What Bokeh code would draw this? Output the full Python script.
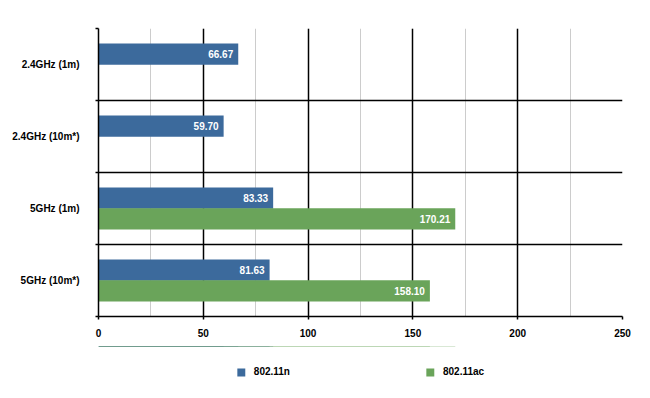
from bokeh.plotting import figure
from bokeh.layouts import column
from bokeh.models import (Range1d, FixedTicker, SingleIntervalTicker, ColumnDataSource,
                          Legend, LegendItem)
from bokeh.embed import file_html
from bokeh.resources import INLINE
from bokeh.core.properties import value

categories = ["2.4GHz (1m)", "2.4GHz (10m*)", "5GHz (1m)", "5GHz (10m*)"]
series = ["802.11n", "802.11ac"]
n_values = [66.67, 59.70, 83.33, 81.63]
ac_values = [None, None, 170.21, 158.10]
x_ticks = [0, 50, 100, 150, 200, 250]

BLUE = "#3c6a9c"
GREEN = "#6aa45a"
FONT = "Liberation Sans"
OFF = 0.145
H = 0.295

idx = list(range(len(categories)))
centers = [i + 0.5 for i in idx]
bounds = list(range(len(categories) + 1))

n_src = ColumnDataSource(dict(
    y=[c - OFF for c in centers], x=n_values,
    label=["%.2f" % v for v in n_values]))
ac_pairs = [(c, v) for c, v in zip(centers, ac_values) if v is not None]
ac_src = ColumnDataSource(dict(
    y=[c + OFF for c, v in ac_pairs], x=[v for c, v in ac_pairs],
    label=["%.2f" % v for c, v in ac_pairs]))

p = figure(width=642, height=346, frame_width=524, frame_height=288,
           x_range=Range1d(x_ticks[0], x_ticks[-1]),
           y_range=Range1d(bounds[-1], bounds[0]),
           output_backend="svg", toolbar_location=None,
           min_border_left=98, min_border_right=20, min_border_top=28,
           min_border_bottom=30)
p.outline_line_color = None
p.background_fill_color = "white"

p.xaxis.ticker = SingleIntervalTicker(interval=50, num_minor_ticks=2)
p.xgrid.ticker = SingleIntervalTicker(interval=50, num_minor_ticks=2)
p.xgrid.grid_line_color = "black"
p.xgrid.grid_line_width = 1.5
p.xgrid.minor_grid_line_color = "#cccccc"
p.xgrid.minor_grid_line_width = 1
p.xgrid.level = "underlay"

p.ygrid.ticker = FixedTicker(ticks=bounds)
p.ygrid.grid_line_color = "black"
p.ygrid.grid_line_width = 1.5

p.yaxis.ticker = FixedTicker(ticks=centers, minor_ticks=bounds)
p.yaxis.major_label_overrides = {c: cat for c, cat in zip(centers, categories)}
p.yaxis.major_tick_line_color = None
p.yaxis.major_tick_out = 3
p.yaxis.major_tick_in = 0
p.yaxis.minor_tick_line_color = "black"
p.yaxis.minor_tick_line_width = 1.5
p.yaxis.minor_tick_out = 3
p.yaxis.minor_tick_in = 0

for ax in (p.xaxis, p.yaxis):
    ax.axis_line_color = "black"
    ax.axis_line_width = 1.5
    ax.major_label_text_font = FONT
    ax.major_label_text_font_style = "bold"
    ax.major_label_text_font_size = "10px"
    ax.major_label_text_color = "black"

p.xaxis.major_tick_out = 3
p.xaxis.major_tick_in = 0
p.xaxis.major_tick_line_width = 1.5
p.xaxis.minor_tick_line_color = None
p.xaxis.major_label_standoff = 8
p.yaxis.major_label_standoff = 16

p.hbar(y="y", right="x", left=0, height=H, source=n_src,
       fill_color=BLUE, line_color=None)
p.hbar(y="y", right="x", left=0, height=H, source=ac_src,
       fill_color=GREEN, line_color=None)

for src in (n_src, ac_src):
    p.text(x="x", y="y", text="label", source=src, x_offset=-5,
           text_align="right", text_baseline="middle", text_color="white",
           text_font=value(FONT), text_font_style="bold", text_font_size="10px")

# legend strip below the chart (same series sources, y-range chosen so the
# bars themselves fall outside this strip and only the legend shows)
p2 = figure(width=642, height=48, frame_width=524, frame_height=48,
            x_range=Range1d(x_ticks[0], x_ticks[-1]), y_range=Range1d(-2, -1),
            x_axis_location=None, y_axis_location=None,
            output_backend="svg", toolbar_location=None,
            min_border_left=98, min_border_right=20, min_border_top=0,
            min_border_bottom=0)
p2.outline_line_color = None
p2.grid.visible = False
lr_n = p2.hbar(y="y", right="x", left=0, height=H, source=n_src,
               fill_color=BLUE, line_color=None)
lr_ac = p2.hbar(y="y", right="x", left=0, height=H, source=ac_src,
                fill_color=GREEN, line_color=None)

legend = Legend(items=[LegendItem(label=series[0], renderers=[lr_n]),
                       LegendItem(label=series[1], renderers=[lr_ac])],
                orientation="horizontal", location="top_center",
                glyph_width=10, glyph_height=10, label_standoff=8,
                spacing=135, padding=5, margin=20,
                border_line_color=None, background_fill_alpha=0,
                label_text_font=FONT, label_text_font_style="bold",
                label_text_font_size="10px", label_text_color="black",
                label_height=10)
p2.add_layout(legend, "center")

layout = column(p, p2, spacing=0)
open("out.html", "w").write(file_html(layout, INLINE))
